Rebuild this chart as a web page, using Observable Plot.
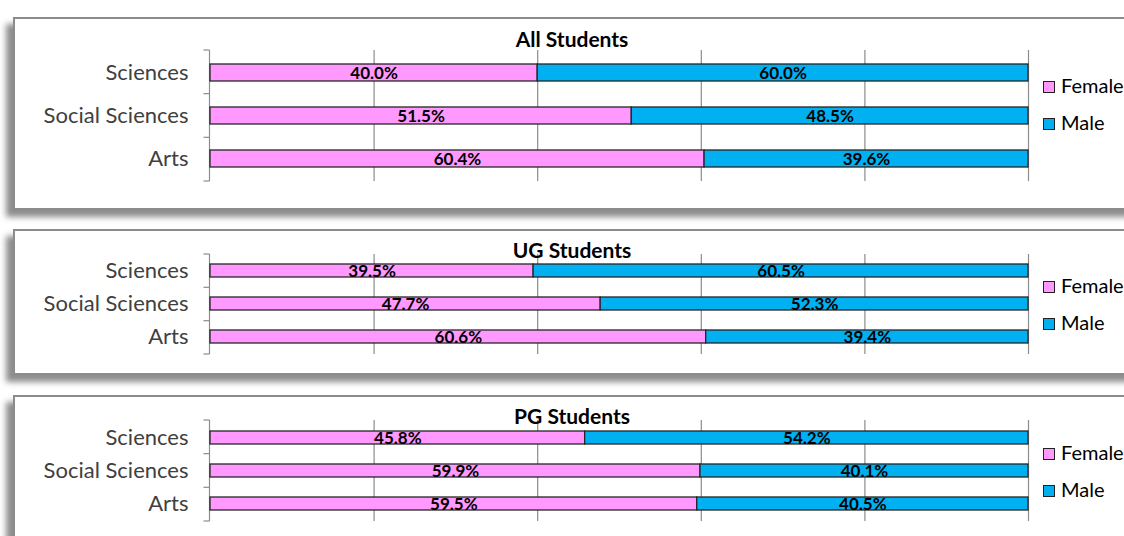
<!DOCTYPE html>
<html>
<head>
<meta charset="utf-8">
<script src="https://cdn.jsdelivr.net/npm/d3@7"></script>
<script src="https://cdn.jsdelivr.net/npm/@observablehq/plot@0.6"></script>
<style>
  html, body { margin: 0; padding: 0; background: #fff; overflow: hidden; }
  body { width: 1124px; height: 536px; position: relative; font-family: Lato, "Open Sans", sans-serif; }
  .panel { position: absolute; left: 13px; width: 1160px; background: #fff;
           border: 2px solid #8c8c8c; box-sizing: border-box;
           box-shadow: -7px 7px 6px rgba(0,0,0,0.45); }
  .chart { position: absolute; left: 0; }
  .title { position: absolute; width: 240px; text-align: center; font-weight: bold;
           font-size: 21px; line-height: 20px; color: #000; }
  .leg { position: absolute; left: 1043px; font-size: 20px; line-height: 20px; color: #000; white-space: nowrap; }
  .leg .sw { display: inline-block; width: 10px; height: 10px; border: 1px solid #222;
             margin-right: 6px; vertical-align: 0px; }
</style>
</head>
<body>
<script>
// ---- data ----
const groups = ["All Students", "UG Students", "PG Students"];
const categories = ["Sciences", "Social Sciences", "Arts"];
const series = ["Female", "Male"];
const femaleValues = [
  [40.0, 51.5, 60.4],
  [39.5, 47.7, 60.6],
  [45.8, 59.9, 59.5]
];
const maleValues = [
  [60.0, 48.5, 39.6],
  [60.5, 52.3, 39.4],
  [54.2, 40.1, 40.5]
];
const xTicks = [20, 40, 60, 80, 100];
const colors = ["#FF99FF", "#00B0F0"];

// ---- layout (page pixels) ----
const layout = [
  {panelTop: 17, panelHeight: 193, svgTop: 0, height: 200, marginTop: 50, marginBottom: 19, titleTop: 29, legTop: [75, 112], dy: 1},
  {panelTop: 229, panelHeight: 146, svgTop: 230, height: 140, marginTop: 24, marginBottom: 16, titleTop: 240, legTop: [275, 312], dy: 1},
  {panelTop: 395, panelHeight: 160, svgTop: 396, height: 140, marginTop: 24, marginBottom: 15, titleTop: 406, legTop: [442, 479], dy: 1}
];

function axisTicks(n) {
  return (index, scales, values, dims) => {
    const g = d3.create("svg:g").attr("stroke", "#8c8c8c").attr("stroke-width", 1.2);
    const x0 = dims.marginLeft - 0.5;
    const yTop = dims.marginTop, yBot = dims.height - dims.marginBottom;
    g.append("line").attr("x1", x0).attr("x2", x0).attr("y1", yTop).attr("y2", yBot);
    const step = (yBot - yTop) / n;
    for (let i = 0; i <= n; i++) {
      const y = yTop + i * step;
      g.append("line").attr("x1", x0 - 6).attr("x2", x0).attr("y1", y).attr("y2", y);
    }
    return g.node();
  };
}

groups.forEach((group, gi) => {
  const L = layout[gi];
  const data = [];
  categories.forEach((cat, ci) => {
    data.push({cat, sex: "Female", value: femaleValues[gi][ci]});
    data.push({cat, sex: "Male", value: maleValues[gi][ci]});
  });

  const panel = document.createElement("div");
  panel.className = "panel";
  panel.style.top = L.panelTop + "px";
  panel.style.height = L.panelHeight + "px";
  document.body.appendChild(panel);

  const chart = Plot.plot({
    width: 1124,
    height: L.height,
    marginLeft: 210,
    marginRight: 96,
    marginTop: L.marginTop,
    marginBottom: L.marginBottom,
    style: {background: "transparent", fontFamily: "Lato, 'Open Sans', sans-serif", color: "#404040", overflow: "visible"},
    x: {domain: [0, 100], axis: null},
    y: {domain: categories, paddingInner: 0.6, paddingOuter: 0.3, axis: null},
    color: {domain: series, range: colors},
    marks: [
      Plot.gridX(xTicks, {stroke: "#8c8c8c", strokeOpacity: 1, strokeWidth: 1.2}),
      axisTicks(categories.length),
      Plot.axisY({tickSize: 0, tickPadding: 22, fontSize: 22, fill: "#404040", label: null}),
      Plot.barX(data, Plot.stackX({x: "value", y: "cat", fill: "sex", stroke: "#262626", strokeWidth: 1.3})),
      Plot.text(data, Plot.stackX({x: "value", y: "cat", z: "sex",
        text: d => d.value.toFixed(1) + "%", fontWeight: "bold", fontSize: 17, fill: "#000", dy: L.dy}))
    ]
  });
  chart.classList.add("chart");
  chart.style.position = "absolute";
  chart.style.top = L.svgTop + "px";
  chart.style.left = "0px";
  document.body.appendChild(chart);

  const t = document.createElement("div");
  t.className = "title";
  t.textContent = group;
  t.style.left = (572 - 120) + "px";
  t.style.top = L.titleTop + "px";
  document.body.appendChild(t);

  series.forEach((s, si) => {
    const lg = document.createElement("div");
    lg.className = "leg";
    lg.style.top = L.legTop[si] + "px";
    const sw = document.createElement("span");
    sw.className = "sw";
    sw.style.background = colors[si];
    lg.appendChild(sw);
    lg.appendChild(document.createTextNode(s));
    document.body.appendChild(lg);
  });
});
</script>
</body>
</html>
